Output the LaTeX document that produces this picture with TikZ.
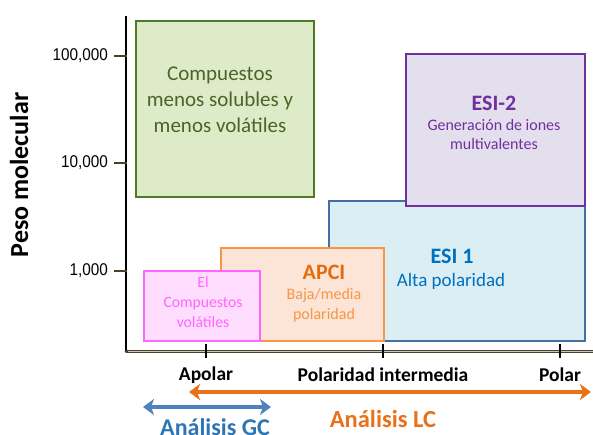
\documentclass[tikz,border=0pt]{standalone}
\usepackage{fontspec}
\setmainfont{Carlito}
\newfontfamily\ticks{Liberation Sans}
\usetikzlibrary{arrows.meta}
\definecolor{grnfill}{HTML}{DDEBC8}
\definecolor{grnline}{HTML}{4F7A28}
\definecolor{grntext}{HTML}{4F6228}
\definecolor{purfill}{HTML}{E4DFEC}
\definecolor{purline}{HTML}{7030A0}
\definecolor{blufill}{HTML}{DAEEF3}
\definecolor{bluline}{HTML}{41719C}
\definecolor{blutext}{HTML}{0070C0}
\definecolor{orgfill}{HTML}{FCE4D6}
\definecolor{orgline}{HTML}{F79646}
\definecolor{orgtext}{HTML}{E46C0A}
\definecolor{pnkfill}{HTML}{FFDDFF}
\definecolor{pnkline}{HTML}{FF66FF}
\definecolor{axisbrown}{HTML}{4A3F28}
\definecolor{gcblue}{HTML}{4F81BD}
\definecolor{gctext}{HTML}{2E75B6}
\definecolor{lcorange}{HTML}{E8711A}
\tikzset{
  region/.style={draw, line width=2pt, inner sep=0pt, anchor=north west},
  lbl/.style={align=center, inner sep=0pt},
  ticklbl/.style={font=\ticks\fontsize{17}{19}\selectfont, anchor=east, inner sep=0pt, xscale=0.9},
  xlbl/.style={font=\bfseries\fontsize{19.5}{21}\selectfont, inner sep=0pt},
  ytick/.style={line width=2pt, axisbrown},
  xtick/.style={line width=2.5pt, black},
  spanarrow/.style={line width=4pt, {Stealth[length=11pt,width=16pt,inset=3pt]}-{Stealth[length=11pt,width=16pt,inset=3pt]}}
}
\begin{document}
\begin{tikzpicture}[x=1pt,y=-1pt]
\useasboundingbox (0,0) rectangle (593,435);

% region boxes, drawn back to front
\node[region, draw=bluline, fill=blufill, minimum width=256pt, minimum height=140pt] (esi1) at (328,200) {};
\node[region, draw=purline, fill=purfill, minimum width=179pt, minimum height=152pt] (esi2) at (405,53) {};
\node[region, draw=orgline, fill=orgfill, minimum width=163pt, minimum height=93pt] (apci) at (220,247) {};
\node[region, draw=pnkline, fill=pnkfill, minimum width=116pt, minimum height=70pt] (ei) at (143,270) {};
\node[region, draw=grnline, fill=grnfill, minimum width=178pt, minimum height=176pt] (lowsol) at (135,20) {};

% texts inside the boxes
\node[lbl, text=grntext, font=\fontsize{21}{26}\selectfont] (lowsoltxt) at (220,100) {Compuestos\\menos solubles y\\menos volátiles};
\node[lbl, text=purline, font=\bfseries\fontsize{22}{24}\selectfont] (esi2t) at (494,103) {ESI-2};
\node[lbl, text=purline, font=\fontsize{16}{19}\selectfont] (esi2d) at (494,135) {Generación de iones\\multivalentes};
\node[lbl, text=blutext, font=\bfseries\fontsize{22}{24}\selectfont] (esi1t) at (452,256) {ESI 1};
\node[lbl, text=blutext, font=\fontsize{19}{21}\selectfont] (esi1d) at (451,281) {Alta polaridad};
\node[lbl, text=orgtext, font=\bfseries\fontsize{22}{24}\selectfont] (apcit) at (324,272) {APCI};
\node[lbl, text=orgline, font=\fontsize{16}{19.5}\selectfont] (apcid) at (324,305) {Baja/media\\polaridad};
\node[lbl, text=pnkline, font=\fontsize{15.7}{20}\selectfont] (eitxt) at (203,302) {El\\Compuestos\\volátiles};

% axes
\coordinate (ytop) at (126,16);
\coordinate (orig) at (126,351);
\coordinate (xend) at (593,351);
\draw[line width=2.8pt, black] (ytop) -- (orig);
\draw[line width=3pt, axisbrown, line cap=round] (orig) -- (xend);
\draw[line width=0.8pt, white!70!axisbrown] (128,351) -- (xend);

% molecular weight ticks
\foreach \yy/\txt/\nm in {56/100{,}000/a,163/10{,}000/b,271/1{,}000/c}{
  \coordinate (yt\nm) at (114,\yy);
  \coordinate (ya\nm) at (127,\yy);
  \draw[ytick] (yt\nm) -- (ya\nm);
  \node[ticklbl] (yl\nm) at (108,\yy) {\txt};
}
\node[font=\bfseries\fontsize{26}{28}\selectfont, rotate=90, inner sep=0pt] (ylab) at (19,175) {Peso molecular};

% polarity ticks and labels
\foreach \xx/\txt/\nm in {206/Apolar/a,383/Polaridad intermedia/b,560/Polar/c}{
  \coordinate (xt\nm) at (\xx,344);
  \coordinate (xb\nm) at (\xx,358);
  \draw[xtick] (xt\nm) -- (xb\nm);
  \node[xlbl] (xl\nm) at (\xx,375) {\txt};
}

% analysis ranges
\coordinate (lcl) at (189,392);
\coordinate (lcr) at (591,392);
\draw[spanarrow, lcorange] (lcl) -- (lcr);
\node[font=\bfseries\fontsize{24.5}{26}\selectfont, text=lcorange, inner sep=0pt] (lctxt) at (383,419) {Análisis LC};

\coordinate (gcl) at (143,407);
\coordinate (gcr) at (271,407);
\draw[spanarrow, gcblue] (gcl) -- (gcr);
\node[font=\bfseries\fontsize{24}{26}\selectfont, text=gctext, inner sep=0pt] (gctxt) at (215,427) {Análisis GC};
\end{tikzpicture}
\end{document}
